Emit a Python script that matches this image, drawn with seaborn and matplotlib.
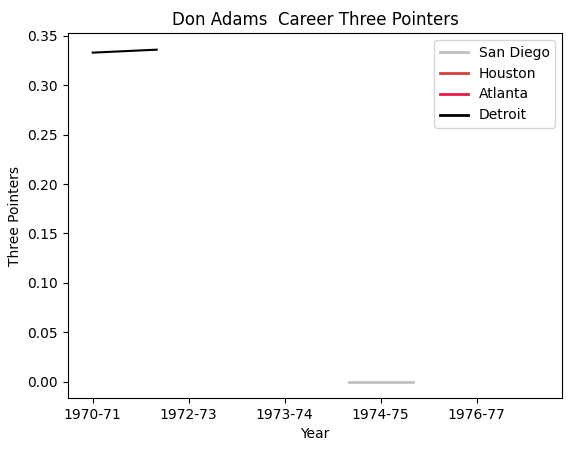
import matplotlib
matplotlib.use("Agg")
import matplotlib.pyplot as plt
import seaborn as sns
import pandas as pd
import numpy as np

teams = ["San Diego", "Houston", "Atlanta", "Detroit"]
colors = ["#c0c0c0", "#d6403c", "#f0164c", "#000000"]
# x in season-step units (3 steps per labelled tick)
sd_x = [8, 10]; sd_y = [0.0, 0.0]
det_x = [0, 2]; det_y = [0.333, 0.336]
hou_x = []; hou_y = []
atl_x = []; atl_y = []
tick_pos = [0, 3, 6, 9, 12]
tick_labels = ["1970-71", "1972-73", "1973-74", "1974-75", "1976-77"]

data = {"San Diego": (sd_x, sd_y), "Houston": (hou_x, hou_y),
        "Atlanta": (atl_x, atl_y), "Detroit": (det_x, det_y)}

fig, ax = plt.subplots(figsize=(5.79, 4.53), dpi=100)
for t, c in zip(teams, colors):
    x, y = data[t]
    if len(x):
        sns.lineplot(x=x, y=y, ax=ax, color=c, lw=2 if t == "San Diego" else 1.5)
    ax.plot([], [], color=c, lw=2, label=t)
ax.set_xticks(tick_pos)
ax.set_xticklabels(tick_labels)
ax.set_xlim(-0.78, 14.67)
ax.set_ylim(-0.0168, 0.3528)
ax.set_xlabel("Year")
ax.set_ylabel("Three Pointers")
ax.set_title("Don Adams  Career Three Pointers")
ax.legend(loc="upper right")
fig.subplots_adjust(left=0.117, right=0.971, top=0.927, bottom=0.121)
fig.savefig("out.png", dpi=100)
